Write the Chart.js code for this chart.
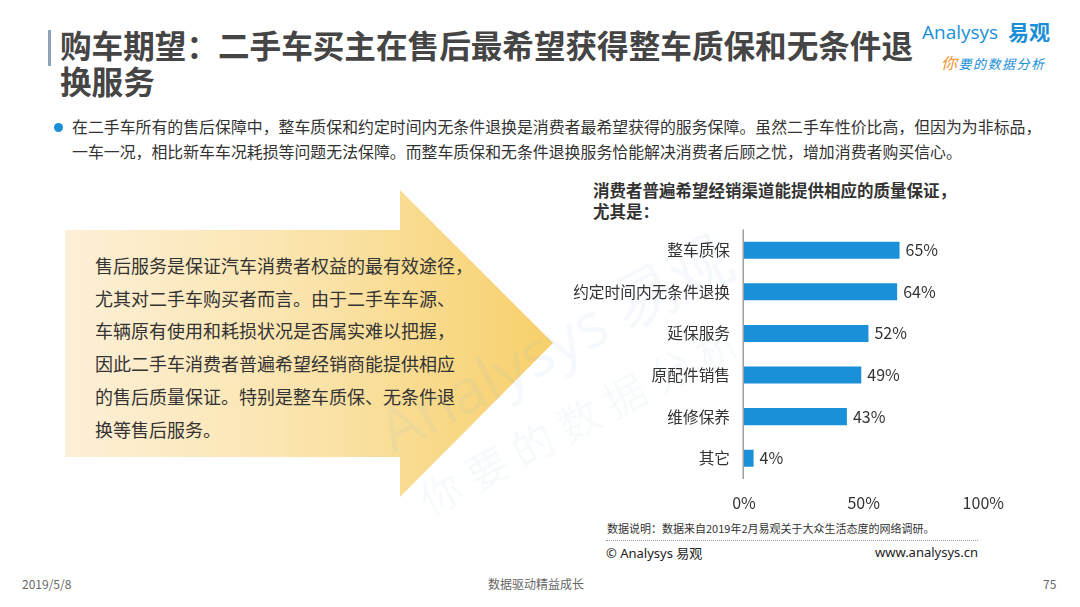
<!DOCTYPE html>
<html>
<head>
<meta charset="utf-8">
<script src="https://cdn.jsdelivr.net/npm/chart.js@4/dist/chart.umd.min.js"></script>
<style>
  body { margin: 0; background: #fff; font-family: "Noto Sans CJK SC", "Noto Sans", sans-serif; }
  #page { position: relative; width: 1080px; height: 607px; overflow: hidden; background: #fff; }
  .abs { position: absolute; white-space: nowrap; }
</style>
</head>
<body>
<div id="page">
  <!-- header -->
  <div class="abs" style="left:48px;top:30px;width:3px;height:36px;background:#8fa3b8;"></div>
  <div class="abs" style="left:60px;top:26px;font-size:31.6px;font-weight:bold;color:#454545;line-height:36px;">购车期望：二手车买主在售后最希望获得整车质保和无条件退<br>换服务</div>

  <div class="abs" style="left:922px;top:19px;font-family:'Open Sans',sans-serif;font-size:19px;color:#1a8fd8;">Analysys</div>
  <div class="abs" style="left:1008px;top:16px;font-size:21px;font-weight:bold;color:#1a8fd8;">易观</div>
  <div class="abs" style="left:941px;top:50px;font-size:13px;font-style:italic;color:#1a8fd8;letter-spacing:1.5px;"><span style="color:#f0922a;font-size:16px;">你</span>要的数据分析</div>

  <!-- bullet text -->
  <div class="abs" style="left:54px;top:123px;width:9px;height:9px;border-radius:50%;background:#1a8fd8;"></div>
  <div class="abs" style="left:72px;top:114px;font-size:15.9px;color:#333;line-height:25px;">在二手车所有的售后保障中，整车质保和约定时间内无条件退换是消费者最希望获得的服务保障。虽然二手车性价比高，但因为为非标品，<br>一车一况，相比新车车况耗损等问题无法保障。而整车质保和无条件退换服务恰能解决消费者后顾之忧，增加消费者购买信心。</div>

  <!-- arrow -->
  <svg class="abs" style="left:0;top:0;" width="1080" height="607">
    <defs>
      <linearGradient id="ag" x1="65" y1="0" x2="553" y2="0" gradientUnits="userSpaceOnUse">
        <stop offset="0" stop-color="#fdf0d8"/>
        <stop offset="0.55" stop-color="#fae2a6"/>
        <stop offset="1" stop-color="#f7d06a"/>
      </linearGradient>
    </defs>
    <polygon points="65,230 400,230 400,190 553,343 400,497 400,457 65,457" fill="url(#ag)"/>
  </svg>
  <div class="abs" style="left:360px;top:300px;transform:rotate(-28deg);font-family:'Open Sans',sans-serif;font-size:62px;color:rgba(120,175,220,0.07);">Analysys 易观</div>
  <div class="abs" style="left:400px;top:385px;transform:rotate(-28deg);font-size:42px;color:rgba(120,175,220,0.07);letter-spacing:10px;">你要的数据分析</div>
  <div class="abs" style="left:95px;top:249px;font-size:18px;color:#333;line-height:32.7px;">售后服务是保证汽车消费者权益的最有效途径，<br>尤其对二手车购买者而言。由于二手车车源、<br>车辆原有使用和耗损状况是否属实难以把握，<br>因此二手车消费者普遍希望经销商能提供相应<br>的售后质量保证。特别是整车质保、无条件退<br>换等售后服务。</div>

  <!-- chart title -->
  <div class="abs" style="left:593px;top:180px;font-size:16.5px;font-weight:bold;color:#333;line-height:21px;">消费者普遍希望经销渠道能提供相应的质量保证，<br>尤其是：</div>

  <div class="abs" style="left:560px;top:206px;width:458px;height:309px;">
    <canvas id="myChart" width="458" height="309"></canvas>
  </div>

  <!-- source / footer -->
  <div class="abs" style="left:607px;top:520px;font-size:11px;color:#333;">数据说明：数据来自2019年2月易观关于大众生活态度的网络调研。</div>
  <div class="abs" style="left:606px;top:540px;width:372px;border-top:1px dotted #999;"></div>
  <div class="abs" style="left:606px;top:543px;font-size:13px;color:#222;font-family:'Noto Sans','Noto Sans CJK SC',sans-serif;">© Analysys 易观</div>
  <div class="abs" style="left:875px;top:543px;font-size:13px;color:#222;font-family:'Noto Sans',sans-serif;">www.analysys.cn</div>

  <div class="abs" style="left:22px;top:575px;font-size:12px;color:#666;">2019/5/8</div>
  <div class="abs" style="left:488px;top:575px;font-size:12px;color:#666;">数据驱动精益成长</div>
  <div class="abs" style="left:1043px;top:575px;font-size:12px;color:#666;">75</div>
</div>

<script>
  // categories and values (share of respondents, %)
  var categories = ['整车质保', '约定时间内无条件退换', '延保服务', '原配件销售', '维修保养', '其它'];
  var values = [65, 64, 52, 49, 43, 4];
  var xTicks = [0, 50, 100];

  var fontFamily = '"Noto Sans CJK SC", "Noto Sans", sans-serif';

  // value axis line at the left edge of the plot plus value labels at bar ends
  var valueLabels = {
    id: 'valueLabels',
    afterDraw: function (chart) {
      var c = chart.ctx;
      var area = chart.chartArea;
      c.save();
      c.beginPath();
      c.strokeStyle = '#a0a0a0';
      c.lineWidth = 1.5;
      c.moveTo(area.left - 0.75, area.top);
      c.lineTo(area.left - 0.75, area.bottom);
      c.stroke();

      var meta = chart.getDatasetMeta(0);
      c.font = '16px ' + fontFamily;
      c.fillStyle = '#333';
      c.textAlign = 'left';
      c.textBaseline = 'middle';
      meta.data.forEach(function (bar, i) {
        c.fillText(values[i] + '%', bar.x + 6, bar.y);
      });
      c.restore();
    }
  };

  var ctx = document.getElementById('myChart').getContext('2d');

  var data = {
    labels: categories,
    datasets: [{
      data: values,
      backgroundColor: '#1a90d8',
      borderWidth: 0,
      barPercentage: 0.41,
      categoryPercentage: 1
    }]
  };

  var options = {
    indexAxis: 'y',
    responsive: false,
    animation: false,
    layout: { padding: { top: 8, right: 0, left: 0, bottom: 0 } },
    plugins: {
      legend: { display: false },
      tooltip: { enabled: false }
    },
    scales: {
      x: {
        min: 0,
        max: 100,
        afterBuildTicks: function (scale) {
          scale.ticks = xTicks.map(function (v) { return { value: v }; });
        },
        afterFit: function (scale) { scale.height = 36; },
        grid: { display: false, drawTicks: false },
        border: { display: false },
        ticks: {
          padding: 14,
          color: '#333',
          font: { size: 16, family: fontFamily },
          callback: function (v) { return v + '%'; }
        }
      },
      y: {
        afterFit: function (scale) { scale.width = 184; },
        grid: { display: false, drawTicks: false },
        border: { display: false },
        ticks: {
          padding: 14,
          color: '#333',
          font: { size: 15.7, family: fontFamily }
        }
      }
    }
  };

  var chart = new Chart(ctx, {
    type: 'bar',
    data: data,
    options: options,
    plugins: [valueLabels]
  });
</script>
</body>
</html>
